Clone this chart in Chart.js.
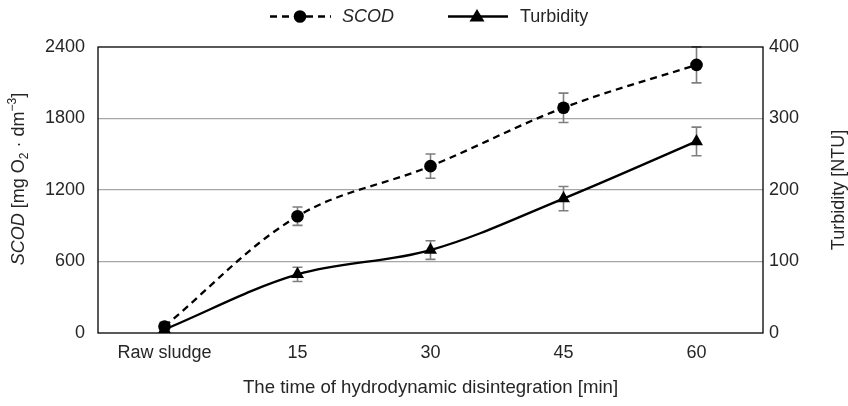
<!DOCTYPE html>
<html>
<head>
<meta charset="utf-8">
<script src="https://cdn.jsdelivr.net/npm/chart.js@4.4.1/dist/chart.umd.min.js"></script>
<style>
  html, body { margin: 0; padding: 0; background: #ffffff; }
  #wrap { width: 848px; height: 406px; position: relative; }
</style>
</head>
<body>
<div id="wrap"><canvas id="c" width="848" height="406"></canvas></div>
<script>
// Disintegration time categories
const categories = ['Raw sludge', '15', '30', '45', '60'];

// Soluble COD [mg O2/dm3] with standard deviations
const scodValues = [55, 980, 1400, 1890, 2250];
const scodErrors = [35, 77, 102, 123, 151];

// Turbidity [NTU] with standard deviations
const turbidityValues = [5, 82, 116, 188, 268];
const turbidityErrors = [4, 10, 13, 17, 20];

// Axis ticks
const leftTicks = [0, 600, 1200, 1800, 2400];
const rightTicks = [0, 100, 200, 300, 400];

const FONT = '"Liberation Sans", Arial, sans-serif';
const TEXT = '#262626';
const FS = 18;

// Vertical error bars with caps, drawn behind the markers
const errorBars = {
  id: 'errorBars',
  beforeDatasetsDraw(chart) {
    const ctx = chart.ctx;
    const x = chart.scales.x;
    const sets = [
      { vals: scodValues, errs: scodErrors, scale: chart.scales.y },
      { vals: turbidityValues, errs: turbidityErrors, scale: chart.scales.y2 }
    ];
    ctx.save();
    ctx.strokeStyle = '#7f7f7f';
    ctx.lineWidth = 1.6;
    sets.forEach(s => {
      s.vals.forEach((v, i) => {
        const px = x.getPixelForValue(i);
        const top = s.scale.getPixelForValue(v + s.errs[i]);
        const bot = s.scale.getPixelForValue(v - s.errs[i]);
        ctx.beginPath();
        ctx.moveTo(px, top); ctx.lineTo(px, bot);
        ctx.moveTo(px - 5, top); ctx.lineTo(px + 5, top);
        ctx.moveTo(px - 5, bot); ctx.lineTo(px + 5, bot);
        ctx.stroke();
      });
    });
    ctx.restore();
  }
};

// Plot frame, legend and axis titles
const decorations = {
  id: 'decorations',
  afterDatasetsDraw(chart) {
    const ctx = chart.ctx;
    const a = chart.chartArea;
    ctx.save();
    ctx.strokeStyle = '#000000';
    ctx.lineWidth = 1.3;
    ctx.strokeRect(a.left, a.top, a.right - a.left, a.bottom - a.top);
    ctx.restore();
  },
  afterDraw(chart) {
    const ctx = chart.ctx;
    const a = chart.chartArea;
    ctx.save();
    ctx.fillStyle = TEXT;
    ctx.textBaseline = 'alphabetic';

    // Legend
    const ly = 16.5;
    ctx.strokeStyle = '#000000';
    ctx.lineWidth = 2.3;
    ctx.setLineDash([7, 5]);
    ctx.beginPath(); ctx.moveTo(270, ly); ctx.lineTo(331, ly); ctx.stroke();
    ctx.setLineDash([]);
    ctx.fillStyle = '#000000';
    ctx.beginPath(); ctx.arc(300, ly, 6.3, 0, Math.PI * 2); ctx.fill();
    ctx.beginPath(); ctx.moveTo(448, ly); ctx.lineTo(508, ly); ctx.stroke();
    ctx.beginPath();
    ctx.moveTo(477, ly - 7.5); ctx.lineTo(484.5, ly + 5); ctx.lineTo(469.5, ly + 5);
    ctx.closePath(); ctx.fill();
    ctx.fillStyle = TEXT;
    ctx.textAlign = 'left';
    ctx.textBaseline = 'middle';
    ctx.font = 'italic ' + FS + 'px ' + FONT;
    ctx.fillText('SCOD', 342, ly + 0.5);
    ctx.font = FS + 'px ' + FONT;
    ctx.fillText('Turbidity', 520, ly + 0.5);

    // X axis title
    ctx.textAlign = 'center';
    ctx.textBaseline = 'alphabetic';
    ctx.font = '18.6px ' + FONT;
    ctx.fillText('The time of hydrodynamic disintegration [min]', (a.left + a.right) / 2, 393);
    ctx.font = FS + 'px ' + FONT;

    // Right axis title
    ctx.save();
    ctx.translate(844, (a.top + a.bottom) / 2);
    ctx.rotate(-Math.PI / 2);
    ctx.textAlign = 'center';
    ctx.fillText('Turbidity [NTU]', 0, 0);
    ctx.restore();

    // Left axis title with italic symbol, subscript and superscript
    const parts = [
      { t: 'SCOD', f: 'italic ' + FS + 'px ' + FONT, dy: 0 },
      { t: ' [mg O', f: FS + 'px ' + FONT, dy: 0 },
      { t: '2', f: '12px ' + FONT, dy: 4 },
      { t: ' \u00b7 dm', f: FS + 'px ' + FONT, dy: 0 },
      { t: '\u22123', f: '12px ' + FONT, dy: -8 },
      { t: ']', f: FS + 'px ' + FONT, dy: 0 }
    ];
    let total = 0;
    parts.forEach(p => { ctx.font = p.f; p.w = ctx.measureText(p.t).width; total += p.w; });
    ctx.save();
    ctx.translate(24, 179);
    ctx.rotate(-Math.PI / 2);
    ctx.textAlign = 'left';
    let cx = -total / 2;
    parts.forEach(p => { ctx.font = p.f; ctx.fillText(p.t, cx, p.dy); cx += p.w; });
    ctx.restore();

    ctx.restore();
  }
};

const plainNumber = v => String(v);

new Chart(document.getElementById('c'), {
  type: 'line',
  data: {
    labels: categories,
    datasets: [
      {
        label: 'SCOD',
        data: scodValues,
        yAxisID: 'y',
        borderColor: '#000000',
        backgroundColor: '#000000',
        borderWidth: 2.3,
        borderDash: [7, 5],
        tension: 0.35,
        pointStyle: 'circle',
        pointRadius: 6.3,
        pointBorderWidth: 0,
        pointBackgroundColor: '#000000'
      },
      {
        label: 'Turbidity',
        data: turbidityValues,
        yAxisID: 'y2',
        borderColor: '#000000',
        backgroundColor: '#000000',
        borderWidth: 2.3,
        tension: 0.35,
        pointStyle: 'triangle',
        pointRadius: 7.5,
        pointBorderWidth: 0,
        pointBackgroundColor: '#000000'
      }
    ]
  },
  options: {
    responsive: false,
    animation: false,
    devicePixelRatio: 1,
    layout: { padding: { top: 47, left: 0, right: 0, bottom: 0 } },
    plugins: { legend: { display: false }, tooltip: { enabled: false } },
    scales: {
      x: {
        offset: true,
        grid: { display: false, drawTicks: false },
        border: { display: false },
        ticks: { color: TEXT, font: { family: FONT, size: FS }, padding: 9, maxRotation: 0 },
        afterFit(s) { s.height = 73; }
      },
      y: {
        position: 'left',
        min: 0, max: 2400,
        afterBuildTicks(s) { s.ticks = leftTicks.map(v => ({ value: v })); },
        grid: {
          drawTicks: false,
          color: ctx => (ctx.tick && (ctx.tick.value === 0 || ctx.tick.value === 2400)) ? 'rgba(0,0,0,0)' : '#a6a6a6',
          lineWidth: 1.3
        },
        border: { display: false },
        ticks: { color: TEXT, font: { family: FONT, size: FS }, padding: 13, callback: plainNumber },
        afterFit(s) { s.width = 98; }
      },
      y2: {
        position: 'right',
        min: 0, max: 400,
        afterBuildTicks(s) { s.ticks = rightTicks.map(v => ({ value: v })); },
        grid: { display: false, drawTicks: false },
        border: { display: false },
        ticks: { color: TEXT, font: { family: FONT, size: FS }, padding: 6, callback: plainNumber },
        afterFit(s) { s.width = 85; }
      }
    }
  },
  plugins: [errorBars, decorations]
});
</script>
</body>
</html>
